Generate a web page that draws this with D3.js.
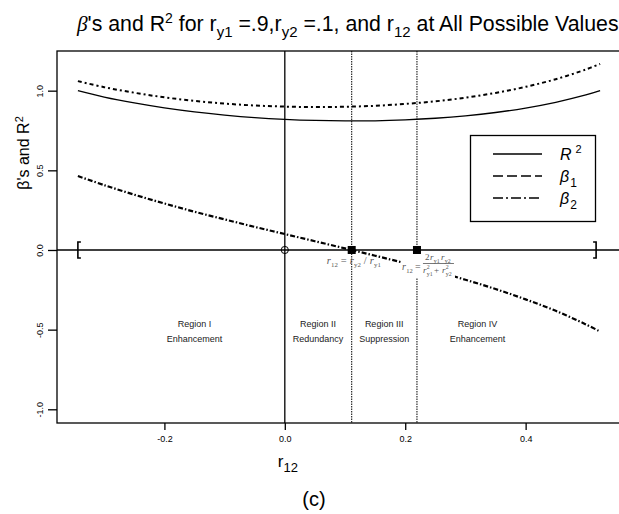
<!DOCTYPE html>
<html><head><meta charset="utf-8">
<script src="https://cdn.jsdelivr.net/npm/d3@7"></script>
<style>body{margin:0;background:#fff} svg{display:block}</style>
</head><body><svg id="c" width="619" height="514"></svg>
<script>
// ---- data ----
const r12      = [-0.3437,-0.30,-0.25,-0.20,-0.15,-0.10,-0.05,0.00,0.05,0.10,0.15,0.20,0.25,0.30,0.35,0.40,0.45,0.50,0.5237];
const rSquared = [1.000,0.960,0.923,0.892,0.867,0.847,0.831,0.820,0.813,0.810,0.811,0.817,0.827,0.842,0.863,0.891,0.927,0.973,1.000];
const beta1    = [1.060,1.022,0.987,0.958,0.936,0.919,0.907,0.900,0.897,0.899,0.905,0.917,0.933,0.956,0.986,1.024,1.072,1.133,1.168];
const beta2    = [0.464,0.407,0.347,0.292,0.240,0.192,0.145,0.100,0.055,0.010,-0.036,-0.083,-0.133,-0.187,-0.245,-0.310,-0.382,-0.467,-0.512];
const xTicks = [-0.2, 0.0, 0.2, 0.4];
const yTicks = [-1.0, -0.5, 0.0, 0.5, 1.0];
const regionNames   = ["Region I","Region II","Region III","Region IV"];
const regionTypes   = ["Enhancement","Redundancy","Suppression","Enhancement"];
const regionCenters = [-0.15, 0.055, 0.165, 0.32];
const criticalR12   = [0.1111, 0.2195];
const r12Range      = [-0.3437, 0.5237];

// ---- layout ----
const svg = d3.select("#c");
const L = 57, T = 51, R = 621, B = 423;
const x = d3.scaleLinear().domain([-0.3784, 0.5584]).range([L, R]);
const y = d3.scaleLinear().domain([-1.086, 1.249]).range([B, T]);
const sans = "'Liberation Sans', Arial, Helvetica, sans-serif";
const serif = "'Liberation Serif', 'Times New Roman', serif";

// frame
svg.append("rect").attr("x", L).attr("y", T).attr("width", R - L).attr("height", B - T)
  .attr("fill", "none").attr("stroke", "#000").attr("stroke-width", 1.3);

// axes
const xAxis = svg.append("g").attr("transform", `translate(0,${B})`)
  .call(d3.axisBottom(x).tickValues(xTicks).tickSize(7).tickSizeOuter(0).tickPadding(6)
    .tickFormat(d => d.toFixed(1)));
xAxis.select(".domain").remove();
xAxis.selectAll("line").attr("stroke-width", 1.3);
xAxis.selectAll("text").attr("font-family", sans).attr("font-size", 9).attr("fill", "#000");

const yAxis = svg.append("g").attr("transform", `translate(${L},0)`)
  .call(d3.axisLeft(y).tickValues(yTicks).tickSize(9).tickSizeOuter(0)
    .tickFormat(d => d.toFixed(1)));
yAxis.select(".domain").remove();
yAxis.selectAll("line").attr("stroke-width", 1.3);
yAxis.selectAll("text").attr("font-family", sans).attr("font-size", 9).attr("fill", "#000")
  .attr("x", null).attr("dy", "0.35em").attr("text-anchor", "middle")
  .attr("transform", "translate(-17,0) rotate(-90)");

// reference lines
svg.append("line").attr("x1", L).attr("x2", R).attr("y1", y(0)).attr("y2", y(0))
  .attr("stroke", "#000").attr("stroke-width", 1.3);
svg.append("line").attr("x1", x(0)).attr("x2", x(0)).attr("y1", T).attr("y2", B)
  .attr("stroke", "#000").attr("stroke-width", 1.3);
svg.selectAll(".crit").data(criticalR12).join("line").attr("class", "crit")
  .attr("x1", d => x(d)).attr("x2", d => x(d)).attr("y1", T).attr("y2", B)
  .attr("stroke", "#000").attr("stroke-width", 1).attr("stroke-dasharray", "1.5,1");

// brackets marking possible range
const bh = 8, bw = 3;
svg.append("path").attr("d", `M${x(r12Range[0]) + bw},${y(0) - bh}h${-bw}v${2 * bh}h${bw}`)
  .attr("fill", "none").attr("stroke", "#000").attr("stroke-width", 1.6);
svg.append("path").attr("d", `M${x(r12Range[1]) - 4 - bw},${y(0) - bh}h${bw}v${2 * bh}h${-bw}`)
  .attr("fill", "none").attr("stroke", "#000").attr("stroke-width", 1.6);

// curves
const line = vals => d3.line().x((d, i) => x(r12[i])).y(d => y(d)).curve(d3.curveCatmullRom)(vals);
svg.append("path").attr("d", line(rSquared)).attr("fill", "none").attr("stroke", "#000").attr("stroke-width", 1.3);
svg.append("path").attr("d", line(beta1)).attr("fill", "none").attr("stroke", "#000").attr("stroke-width", 2)
  .attr("stroke-dasharray", "4,3,2,3");
svg.append("path").attr("d", line(beta2)).attr("fill", "none").attr("stroke", "#000").attr("stroke-width", 2.2)
  .attr("stroke-dasharray", "5,2,1.5,2");

// points
svg.append("circle").attr("cx", x(0)).attr("cy", y(0)).attr("r", 3.6)
  .attr("fill", "none").attr("stroke", "#000").attr("stroke-width", 1);
svg.selectAll(".sq").data(criticalR12).join("rect").attr("class", "sq")
  .attr("x", d => x(d) - 4).attr("y", y(0) - 4).attr("width", 8).attr("height", 8).attr("fill", "#000");

// region labels
const reg = svg.append("g").attr("font-family", sans).attr("font-size", 9).attr("fill", "#222").attr("text-anchor", "middle");
regionCenters.forEach((c, i) => {
  reg.append("text").attr("x", x(c)).attr("y", y(-0.465) + 3).text(regionNames[i]);
  reg.append("text").attr("x", x(c)).attr("y", y(-0.56) + 3).text(regionTypes[i]);
});

// annotations (formulas)
const ann = svg.append("g").attr("font-family", serif).attr("fill", "#555");
function rsym(g, px, py, sub, sup, fs) {
  g.append("text").attr("x", px).attr("y", py).attr("font-size", fs).attr("font-style", "italic").text("r");
  if (sup) g.append("text").attr("x", px + fs * 0.42).attr("y", py - fs * 0.42).attr("font-size", fs * 0.65).text(sup);
  if (sub) g.append("text").attr("x", px + fs * 0.42).attr("y", py + fs * 0.3).attr("font-size", fs * 0.65).text(sub);
}
{
  const cx = x(criticalR12[0]);
  const g = ann.append("g");
  rsym(g, cx - 25, 264, "12", null, 10.5);
  g.append("text").attr("x", cx - 11).attr("y", 264).attr("font-size", 10.5).text("=");
  rsym(g, cx - 2, 264, "y2", null, 10.5);
  g.append("text").attr("x", cx + 12).attr("y", 264).attr("font-size", 10.5).text("/");
  rsym(g, cx + 18, 264, "y1", null, 10.5);
}
{
  const x0 = x(criticalR12[1]);
  const g = ann.append("g");
  g.append("rect").attr("x", x0 - 16).attr("y", 254).attr("width", 54).attr("height", 24).attr("fill", "#fff");
  rsym(g, x0 - 15, 270, "12", null, 10);
  g.append("text").attr("x", x0 - 2).attr("y", 270).attr("font-size", 10).text("=");
  // numerator
  g.append("text").attr("x", x0 + 8).attr("y", 260).attr("font-size", 9).text("2");
  rsym(g, x0 + 13, 260, "y1", null, 9);
  rsym(g, x0 + 24, 260, "y2", null, 9);
  g.append("line").attr("x1", x0 + 6).attr("x2", x0 + 37).attr("y1", 263.5).attr("y2", 263.5)
    .attr("stroke", "#555").attr("stroke-width", 0.8);
  // denominator
  rsym(g, x0 + 6, 273, "y1", "2", 9);
  g.append("text").attr("x", x0 + 17).attr("y", 273).attr("font-size", 9).text("+");
  rsym(g, x0 + 25, 273, "y2", "2", 9);
}

// legend
const lg = svg.append("g");
lg.append("rect").attr("x", 470.5).attr("y", 135.5).attr("width", 125).attr("height", 86)
  .attr("fill", "#fff").attr("stroke", "#000").attr("stroke-width", 1.3);
const legendItems = [
  {dash: null, label: "R", sub: null, sup: "2", y: 154},
  {dash: "10,4", label: "β", sub: "1", sup: null, y: 176},
  {dash: "10,3,2,3", label: "β", sub: "2", sup: null, y: 198}
];
legendItems.forEach(it => {
  lg.append("line").attr("x1", 493).attr("x2", 542).attr("y1", it.y).attr("y2", it.y)
    .attr("stroke", "#000").attr("stroke-width", 1.3).attr("stroke-dasharray", it.dash);
  const t = lg.append("text").attr("x", 560).attr("y", it.y + 6).attr("font-family", sans).attr("font-size", 16);
  t.append("tspan").attr("font-style", "italic").text(it.label);
  if (it.sup) t.append("tspan").attr("font-size", 11).attr("dx", 4).attr("dy", -7).text(it.sup);
  if (it.sub) t.append("tspan").attr("font-size", 12).attr("dx", 1).attr("dy", 5).text(it.sub);
});

// title
{
  const t = svg.append("text").attr("x", 77).attr("y", 31).attr("font-family", sans).attr("font-size", 21.3).attr("fill", "#000");
  t.append("tspan").attr("font-style", "italic").attr("font-family", serif).text("β");
  t.append("tspan").text("'s and R");
  t.append("tspan").attr("font-size", 14).attr("dy", -8).text("2");
  t.append("tspan").attr("dy", 8).text(" for r");
  t.append("tspan").attr("font-size", 15).attr("dy", 6).text("y1");
  t.append("tspan").attr("dy", -6).text(" =.9,r");
  t.append("tspan").attr("font-size", 15).attr("dy", 6).text("y2");
  t.append("tspan").attr("dy", -6).text(" =.1, and r");
  t.append("tspan").attr("font-size", 15).attr("dy", 6).text("12");
  t.append("tspan").attr("dy", -6).text(" at All Possible Values");
}

// y label
{
  const t = svg.append("text").attr("transform", "translate(29,153) rotate(-90)")
    .attr("text-anchor", "middle").attr("font-family", sans).attr("font-size", 16);
  t.append("tspan").text("β's and R");
  t.append("tspan").attr("font-size", 11).attr("dy", -6).text("2");
}
// x label
{
  const t = svg.append("text").attr("x", x(0) - 7).attr("y", 467).attr("font-family", sans).attr("font-size", 17);
  t.append("tspan").text("r");
  t.append("tspan").attr("font-size", 13).attr("dy", 5).text("12");
}
// panel label
svg.append("text").attr("x", 314).attr("y", 506).attr("text-anchor", "middle")
  .attr("font-family", sans).attr("font-size", 20).text("(c)");
</script></body></html>
